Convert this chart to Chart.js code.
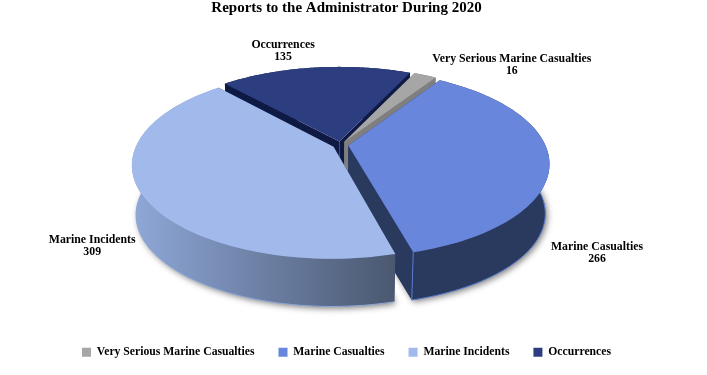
<!DOCTYPE html>
<html>
<head>
<meta charset="utf-8">
<title>Reports to the Administrator During 2020</title>
<script src="https://cdn.jsdelivr.net/npm/chart.js@4"></script>
<style>
    html, body { margin: 0; padding: 0; background: #fff; }
    canvas { display: block; }
</style>
</head>
<body>
<canvas id="chart" width="707" height="375"></canvas>
<script>
const categories = ['Very Serious Marine Casualties', 'Marine Casualties', 'Marine Incidents', 'Occurrences'];
const values = [16, 266, 309, 135];
const topColors = ['#A6A6A6', '#6786DC', '#A2BAEB', '#2C3E80'];
const wallColors = ['#7F7F7F', '#2A3A5E', '#6F82A8', '#0E1A44'];

const FONT = '"Liberation Serif", "Times New Roman", serif';

// 3D look of the pie: a tilted disc seen in perspective
const CX = 340.5, CY = 145;     // where the disc centre lands on screen
const RX = 197, RY = 90;        // horizontal and vertical size of the disc
const PERSPECTIVE = 0.19;
const EXPLODE = 0.04;           // slice pull-out, as a share of the radius
const DEPTH = 50;
const BOTTOM_SCALE = 0.98;

// where each label sits relative to the rim point at the slice's middle angle
const labelNudge = [[89.5, -12.5], [56, 93.5], [-58, 53.5], [-33, -19]];

function project(u, v, bottom) {
    const w = 1 - PERSPECTIVE * v;
    const x = RX * u / w;
    const y = RY * v / w;
    if (bottom) {
        return [CX + x * BOTTOM_SCALE, CY + y * BOTTOM_SCALE + DEPTH];
    }
    return [CX + x, CY + y];
}

function rimPoints(arc, bottom) {
    const mid = (arc.startAngle + arc.endAngle) / 2;
    const ox = Math.cos(mid) * EXPLODE, oy = Math.sin(mid) * EXPLODE;
    const steps = 80;
    const pts = [];
    for (let i = 0; i <= steps; i++) {
        const a = arc.startAngle + (arc.endAngle - arc.startAngle) * i / steps;
        pts.push(project(ox + Math.cos(a), oy + Math.sin(a), bottom));
    }
    return { pts, apex: project(ox, oy, bottom) };
}

function fillPoly(ctx, pts, fill) {
    ctx.beginPath();
    pts.forEach((p, i) => i ? ctx.lineTo(p[0], p[1]) : ctx.moveTo(p[0], p[1]));
    ctx.closePath();
    ctx.fillStyle = fill;
    ctx.fill();
}

function wallFill(ctx, index) {
    // only the big front slice has the shaded wall
    if (index !== 2) return wallColors[index];
    const g = ctx.createLinearGradient(132, 0, 394, 0);
    g.addColorStop(0, '#8FA8D8');
    g.addColorStop(1, '#4A5870');
    return g;
}

const pie3d = {
    id: 'pie3d',
    beforeDatasetsDraw(chart) {
        const ctx = chart.ctx;
        const arcs = chart.getDatasetMeta(0).data;
        // back to front
        const order = [3, 0, 1, 2];

        // soft shadow below the front walls
        ctx.save();
        ctx.shadowColor = 'rgba(0,0,0,0.5)';
        ctx.shadowBlur = 6;
        ctx.shadowOffsetX = 2;
        ctx.shadowOffsetY = 2;
        [1, 2].forEach(i => {
            const b = rimPoints(arcs[i], true);
            fillPoly(ctx, b.pts.concat([b.apex]), wallColors[i]);
        });
        ctx.restore();

        order.forEach(i => {
            const top = rimPoints(arcs[i], false);
            const bot = rimPoints(arcs[i], true);
            const n = top.pts.length - 1;

            // the two cut faces
            fillPoly(ctx, [top.apex, top.pts[0], bot.pts[0], bot.apex], i === 2 ? wallColors[1] : wallColors[i]);
            fillPoly(ctx, [top.apex, top.pts[n], bot.pts[n], bot.apex], i === 2 ? wallColors[1] : wallColors[i]);

            // outer wall
            const wall = top.pts.concat(bot.pts.slice().reverse());
            fillPoly(ctx, wall, wallFill(ctx, i));
            if (i === 1 || i === 2) {
                ctx.beginPath();
                bot.pts.forEach((p, k) => k ? ctx.lineTo(p[0], p[1]) : ctx.moveTo(p[0], p[1]));
                ctx.lineTo(top.pts[n][0], top.pts[n][1]);
                ctx.strokeStyle = i === 1 ? '#5C7CD0' : '#8FA8D8';
                ctx.lineWidth = 1;
                ctx.stroke();
            }

            // top face
            fillPoly(ctx, top.pts.concat([top.apex]), topColors[i]);
        });

        // data labels
        ctx.save();
        ctx.font = 'bold 11.8px ' + FONT;
        ctx.fillStyle = '#000';
        ctx.textAlign = 'center';
        ctx.textBaseline = 'middle';
        arcs.forEach((arc, i) => {
            const mid = (arc.startAngle + arc.endAngle) / 2;
            const p = project(Math.cos(mid), Math.sin(mid), false);
            const x = p[0] + labelNudge[i][0], y = p[1] + labelNudge[i][1];
            ctx.fillText(categories[i], x, y - 6);
            ctx.fillText(String(values[i]), x, y + 6);
        });
        ctx.restore();
        return false;
    }
};

new Chart(document.getElementById('chart'), {
    type: 'pie',
    data: {
        labels: categories,
        datasets: [{
            data: values,
            backgroundColor: topColors,
            borderWidth: 0
        }]
    },
    options: {
        responsive: false,
        animation: false,
        rotation: 25,
        layout: { padding: { top: -1, right: 14, bottom: 7, left: 0 } },
        plugins: {
            title: {
                display: true,
                text: 'Reports to the Administrator During 2020',
                color: '#000',
                font: { family: FONT, size: 15, weight: 'bold' },
                padding: { top: 0, bottom: 10 }
            },
            legend: {
                position: 'bottom',
                labels: {
                    color: '#000',
                    font: { family: FONT, size: 11.7, weight: 'bold' },
                    boxWidth: 9,
                    boxHeight: 9,
                    padding: 24
                }
            },
            tooltip: { enabled: false }
        }
    },
    plugins: [pie3d]
});
</script>
</body>
</html>
